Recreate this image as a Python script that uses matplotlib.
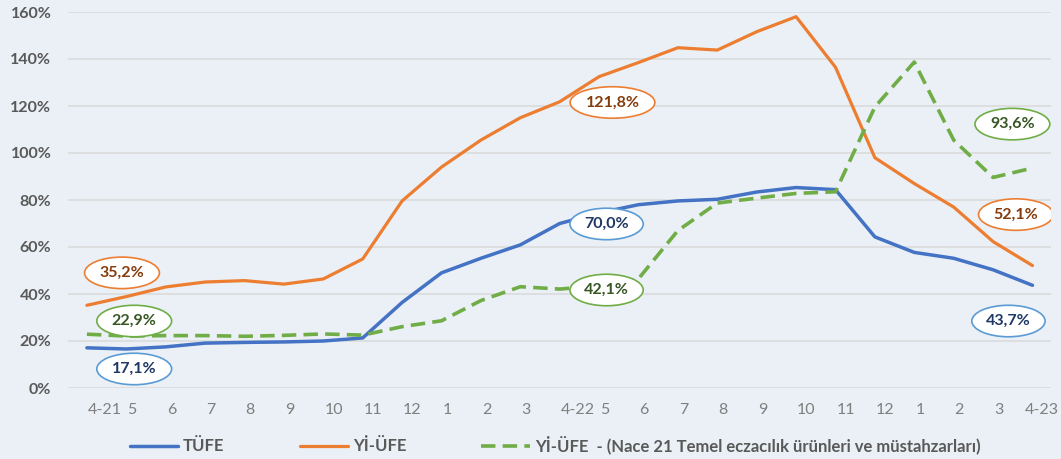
import matplotlib
matplotlib.use("Agg")
import matplotlib.pyplot as plt
from matplotlib.patches import Ellipse
import matplotlib.transforms as mtransforms

plt.rcParams['font.family'] = ['Lato', 'DejaVu Sans']

# ----------------- data -----------------
months = ["4-21", "5", "6", "7", "8", "9", "10", "11", "12", "1", "2", "3",
          "4-22", "5", "6", "7", "8", "9", "10", "11", "12", "1", "2", "3", "4-23"]
tufe = [17.1, 16.6, 17.5, 19.1, 19.4, 19.6, 20.0, 21.3, 36.4, 49.0, 55.2, 60.9,
        70.0, 74.5, 78.0, 79.6, 80.3, 83.4, 85.3, 84.4, 64.3, 57.7, 55.2, 50.3, 43.7]
yiufe = [35.2, 38.9, 43.0, 45.1, 45.7, 44.2, 46.4, 54.9, 79.6, 94.0, 105.5, 115.0,
         121.8, 132.5, 138.5, 144.8, 143.8, 151.6, 158.0, 136.5, 98.0, 87.0, 77.0, 62.3, 52.1]
nace21 = [22.9, 22.1, 22.3, 22.3, 22.0, 22.4, 23.0, 22.5, 26.1, 28.6, 37.2, 43.1,
          42.1, 43.5, 46.5, 67.0, 78.7, 80.8, 82.8, 83.5, 119.6, 138.7, 105.5, 89.6, 93.6]

series_names = ["TÜFE", "Yİ-ÜFE", "Yİ-ÜFE  - (Nace 21 Temel eczacılık ürünleri ve müstahzarları)"]
colors = ["#4472C4", "#ED7D31", "#70AD47"]

# etiketler: (metin, x indeks, y, kenar rengi, yazi rengi, genislik)
callouts = [
    ("35,2%", 0.89, 49.0, "#ED7D31", "#843C0C", 1.9),
    ("22,9%", 1.20, 28.5, "#70AD47", "#375623", 1.9),
    ("17,1%", 1.20, 8.1, "#5B9BD5", "#1F3864", 1.9),
    ("121,8%", 13.34, 121.5, "#ED7D31", "#843C0C", 2.15),
    ("70,0%", 13.19, 69.8, "#5B9BD5", "#1F3864", 1.86),
    ("42,1%", 13.19, 41.7, "#70AD47", "#375623", 1.86),
    ("93,6%", 23.49, 112.3, "#70AD47", "#375623", 1.9),
    ("52,1%", 23.58, 73.8, "#ED7D31", "#843C0C", 1.9),
    ("43,7%", 23.39, 28.5, "#5B9BD5", "#1F3864", 1.86),
]

# ----------------- figure -----------------
fig = plt.figure(figsize=(10.61, 4.59), dpi=100)
fig.patch.set_facecolor("#EAF0F5")
ax = fig.add_axes([68 / 1061, 1 - 388 / 459, (1051 - 68) / 1061, (388 - 12) / 459])
ax.set_facecolor("none")

x = list(range(len(months)))
l1, = ax.plot(x, tufe, color=colors[0], lw=2.5, solid_capstyle='round', zorder=3)
l2, = ax.plot(x, yiufe, color=colors[1], lw=2.3, solid_capstyle='round', zorder=3)
l3, = ax.plot(x, nace21, color=colors[2], lw=2.6, dashes=(4, 2), zorder=3)

for text, cx, cy, ec, tc, w in callouts:
    ax.add_patch(Ellipse((cx, cy), w, 13.4, facecolor="white", edgecolor=ec,
                         lw=1.2, zorder=5))
    ax.text(cx, cy, text, ha="center", va="center", fontsize=11.5, fontweight="bold",
            color=tc, zorder=6)

ax.set_xlim(-0.48, 24.47)
ax.set_ylim(0, 160)
ax.set_yticks(range(0, 161, 20))
ax.set_yticklabels([f"{v}%" for v in range(0, 161, 20)])
ax.set_xticks(x)
ax.set_xticklabels(months)

ax.tick_params(axis="y", length=0, pad=12, labelsize=11.5, labelcolor="#595959")
ax.tick_params(axis="x", length=0, pad=11, labelsize=11.5, labelcolor="#7F7F7F")
for lab in ax.get_yticklabels():
    lab.set_fontweight("bold")

# x etiketleri sola hizali, sonuncusu kenarda kesilmesin
xlabels = ax.get_xticklabels()
for i, lab in enumerate(xlabels):
    lab.set_horizontalalignment("left")
    dx = 1 if i < len(xlabels) - 1 else -8
    lab.set_transform(lab.get_transform() + mtransforms.ScaledTranslation(dx / 100, 0, fig.dpi_scale_trans))

ax.grid(axis="y", color="#D9D9D9", lw=1.1)
ax.set_axisbelow(True)
for s in ax.spines.values():
    s.set_visible(False)

leg = fig.legend([l1, l2, l3], series_names, loc="center",
                 bbox_to_anchor=(555 / 1061, 1 - 445 / 459), ncol=3, frameon=False,
                 handlelength=2.9, handletextpad=0.3, columnspacing=4.5,
                 prop={"size": 12, "weight": "bold"})
for t in leg.get_texts():
    t.set_color("#595959")

fig.savefig("out.png", dpi=100, facecolor=fig.get_facecolor())
